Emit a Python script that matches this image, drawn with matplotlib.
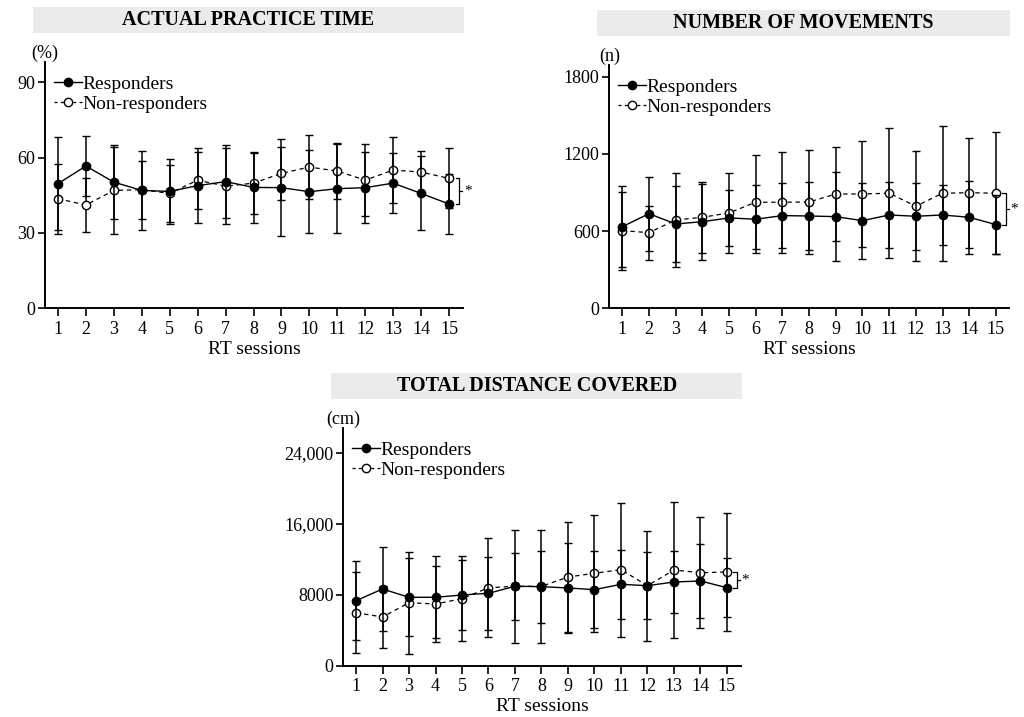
import numpy as np
import matplotlib
matplotlib.use('Agg')
import matplotlib.pyplot as plt
from matplotlib.patches import Rectangle
from matplotlib.lines import Line2D

plt.rcParams['font.family'] = ['Liberation Serif', 'DejaVu Serif']

# RT sessions
sessions = np.arange(1, 16)

# actual practice time (%)
apt_resp = [49.6, 56.6, 50.2, 46.9, 46.5, 48.8, 50.4, 48.1, 48.0, 46.4, 47.6, 48.0, 49.8, 45.7, 41.5]
apt_resp_sd = [18.4, 12.0, 14.7, 15.8, 12.8, 14.8, 14.5, 14.2, 19.2, 16.4, 17.6, 14.2, 11.8, 14.7, 12.1]
apt_non = [43.6, 41.1, 46.9, 47.2, 45.7, 51.0, 48.6, 49.8, 53.7, 56.2, 54.6, 51.0, 55.0, 54.2, 51.7]
apt_non_sd = [14.0, 10.6, 17.2, 11.6, 11.2, 11.3, 15.2, 12.1, 10.6, 12.8, 11.2, 14.3, 13.2, 8.3, 11.9]

# number of movements (n)
mov_resp = [634, 735, 655, 673, 702, 692, 720, 717, 712, 681, 725, 715, 725, 707, 650]
mov_resp_sd = [316, 288, 295, 295, 217, 264, 254, 267, 347, 295, 254, 259, 231, 285, 229]
mov_non = [603, 588, 686, 707, 741, 824, 824, 826, 888, 888, 894, 793, 894, 898, 894]
mov_non_sd = [303, 210, 362, 277, 310, 367, 391, 404, 363, 410, 504, 427, 523, 426, 476]

# total distance covered (cm)
dist_resp = [7326, 8644, 7708, 7708, 7968, 8159, 8948, 8910, 8757, 8569, 9170, 9016, 9433, 9546, 8790]
dist_resp_sd = [4480, 4734, 4400, 4600, 3950, 4100, 3800, 4050, 5080, 4310, 3900, 3794, 3490, 4170, 3300]
dist_non = [5973, 5488, 7100, 6954, 7551, 8790, 8940, 8940, 9997, 10413, 10826, 9016, 10785, 10480, 10560]
dist_non_sd = [4570, 3460, 5750, 4270, 4800, 5570, 6390, 6390, 6150, 6600, 7560, 6200, 7660, 6250, 6690]

W, H = 1024, 717
fig = plt.figure(figsize=(W / 100, H / 100), dpi=100)


def px_axes(left, top, right, bottom):
    # pixel box (from top-left) -> figure fraction
    return fig.add_axes([left / W, 1 - bottom / H, (right - left) / W, (bottom - top) / H])


def panel(ax, resp, resp_sd, non, non_sd, ylim, xlim, yticks, yticklabels, unit, title):
    ax.errorbar(sessions, non, yerr=non_sd, fmt='o--', color='black', mfc='white', mec='black',
                ms=6, mew=1.0, lw=0.9, dashes=(3.5, 3), elinewidth=1.1, capsize=3, capthick=1.0,
                zorder=3)
    ax.errorbar(sessions, resp, yerr=resp_sd, fmt='o-', color='black', mfc='black', mec='black',
                ms=6, lw=1.0, elinewidth=1.1, capsize=3, capthick=1.0, zorder=4)

    ax.set_xlim(*xlim)
    ax.set_ylim(*ylim)
    ax.set_xticks(sessions)
    ax.set_yticks(yticks)
    ax.set_yticklabels(yticklabels)
    for s in ['top', 'right']:
        ax.spines[s].set_visible(False)
    for s in ['left', 'bottom']:
        ax.spines[s].set_linewidth(1.4)
    ax.tick_params(axis='both', labelsize=13, width=1.2, length=5, pad=2)
    ax.tick_params(axis='x', length=6, pad=3)

    # significance bracket between the two groups at the last session
    bx = 15 + 0.36 * (xlim[1] - xlim[0]) / 15
    y0, y1 = resp[-1], non[-1]
    ax.plot([bx - 0.12, bx, bx, bx - 0.12], [y0, y0, y1, y1], color='black', lw=0.9, clip_on=False)
    ym = (y0 + y1) / 2
    ax.plot([bx, bx + 0.12], [ym, ym], color='black', lw=0.9, clip_on=False)
    ax.text(bx + 0.17, ym, '*', fontsize=11, ha='left', va='center', clip_on=False)

    h_resp = Line2D([], [], color='black', marker='o', ms=6, lw=1.0, mfc='black')
    h_non = Line2D([], [], color='black', marker='o', ms=6, lw=0.9, mfc='white', mew=1.0,
                   dashes=(2.5, 2.5))
    ax.legend([h_resp, h_non], ['Responders', 'Non-responders'], loc='upper left',
              bbox_to_anchor=(0.022, 0.945), frameon=False, fontsize=14, handlelength=1.45,
              handletextpad=0.0, labelspacing=0.1, borderaxespad=0.0, borderpad=0.0)

    ax.annotate(unit, xy=(0, 1), xycoords='axes fraction', xytext=(0, 9 * 0.72),
                textcoords='offset points', ha='center', va='center', fontsize=13)
    ax.annotate('RT sessions', xy=(0.5, 0), xycoords='axes fraction', xytext=(0, -41 * 0.72),
                textcoords='offset points', ha='center', va='center', fontsize=14)

    # gray title banner
    pos = ax.get_position()
    x0 = pos.x0 - 12 / W
    x1 = pos.x1 + 1 / W
    y_top = pos.y1 + 55 / H
    y_bot = pos.y1 + 29 / H
    fig.add_artist(Rectangle((x0, y_bot), x1 - x0, y_top - y_bot, transform=fig.transFigure,
                             facecolor='#ebebeb', edgecolor='none', zorder=0))
    fig.text((x0 + x1) / 2, (y_top + y_bot) / 2, title, ha='center', va='center',
             fontsize=14.5, fontweight='bold')


ax1 = px_axes(45, 62, 463, 308.3)
panel(ax1, apt_resp, apt_resp_sd, apt_non, apt_non_sd, (0, 98), (0.535, 15.5),
      [0, 30, 60, 90], ['0', '30', '60', '90'], '(%)', 'ACTUAL PRACTICE TIME')

ax2 = px_axes(609.3, 65, 1009, 308.3)
panel(ax2, mov_resp, mov_resp_sd, mov_non, mov_non_sd, (0, 1890), (0.513, 15.49),
      [0, 600, 1200, 1800], ['0', '600', '1200', '1800'], '(n)', 'NUMBER OF MOVEMENTS')

ax3 = px_axes(343.3, 428.3, 741, 665.7)
panel(ax3, dist_resp, dist_resp_sd, dist_non, dist_non_sd, (0, 26750), (0.52, 15.53),
      [0, 8000, 16000, 24000], ['0', '8000', '16,000', '24,000'], '(cm)', 'TOTAL DISTANCE COVERED')

fig.savefig('out.png', dpi=100, facecolor='white')
